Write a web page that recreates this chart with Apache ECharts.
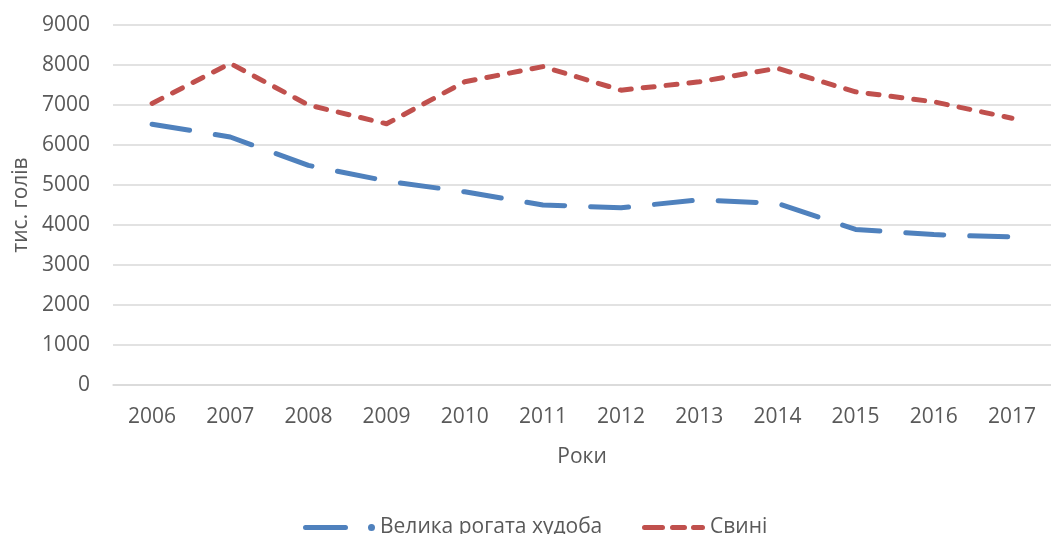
<!DOCTYPE html>
<html>
<head>
<meta charset="utf-8">
<script src="https://cdn.jsdelivr.net/npm/echarts@6/dist/echarts.min.js"></script>
<style>
  html, body { margin: 0; padding: 0; background: #fff; }
  #chart { width: 1051px; height: 534px; }
</style>
</head>
<body>
<div id="chart"></div>
<script>
// роки
const years = ['2006', '2007', '2008', '2009', '2010', '2011', '2012', '2013', '2014', '2015', '2016', '2017']
// велика рогата худоба, тис. голів
const cattle = [6520, 6200, 5490, 5100, 4830, 4500, 4430, 4630, 4540, 3890, 3760, 3700]
// свині, тис. голів
const pigs = [7040, 8040, 7000, 6530, 7580, 7960, 7370, 7580, 7920, 7330, 7080, 6670]

const textColor = '#595959'
const font = 'Open Sans'
const blue = '#4f81bd'
const red = '#c0504d'

// значки легенди як в Excel: довга лінія з крапкою та три штрихи
const blueIcon = 'path://M2.5 1 L42.5 1 A2.5 2.5 0 0 1 42.5 6 L2.5 6 A2.5 2.5 0 0 1 2.5 1 Z ' +
  'M65 3.5 A3.5 3.5 0 1 1 72 3.5 A3.5 3.5 0 1 1 65 3.5 Z'
const redIcon = 'path://M2.5 0 L20.5 0 A2.5 2.5 0 0 1 20.5 5 L2.5 5 A2.5 2.5 0 0 1 2.5 0 Z ' +
  'M30.5 0 L42.5 0 A2.5 2.5 0 0 1 42.5 5 L30.5 5 A2.5 2.5 0 0 1 30.5 0 Z ' +
  'M51.5 0 L60.5 0 A2.5 2.5 0 0 1 60.5 5 L51.5 5 A2.5 2.5 0 0 1 51.5 0 Z'

const legendText = { color: textColor, fontSize: 21, fontFamily: font }

const myChart = echarts.init(document.getElementById('chart'))
const option = {
  animation: false,
  grid: {
    left: 113,
    right: -11,
    top: 25,
    bottom: 149,
  },
  legend: [
    {
      left: 298,
      top: 512,
      itemWidth: 72,
      itemHeight: 7,
      textStyle: legendText,
      data: [{ name: 'Велика рогата худоба', icon: blueIcon }],
    },
    {
      left: 637,
      top: 512,
      itemWidth: 63,
      itemHeight: 5,
      textStyle: legendText,
      data: [{ name: 'Свині', icon: redIcon }],
    },
  ],
  xAxis: {
    type: 'category',
    data: years,
    boundaryGap: true,
    name: 'Роки',
    nameLocation: 'middle',
    nameGap: 62,
    nameTextStyle: { color: textColor, fontSize: 21, fontFamily: font },
    axisLine: { lineStyle: { color: '#d9d9d9', width: 1.5 } },
    axisTick: { show: false },
    axisLabel: { color: textColor, fontSize: 21, fontFamily: font, margin: 22 },
  },
  yAxis: {
    type: 'value',
    min: 0,
    max: 9000,
    interval: 1000,
    name: 'тис. голів',
    nameLocation: 'middle',
    nameGap: 78,
    nameTextStyle: { color: textColor, fontSize: 21, fontFamily: font },
    axisLine: { show: false },
    axisTick: { show: false },
    axisLabel: {
      color: textColor,
      fontSize: 21,
      fontFamily: font,
      margin: 23,
      formatter: (v) => String(v),
    },
    splitLine: { lineStyle: { color: '#d9d9d9', width: 1.5 } },
  },
  series: [
    {
      name: 'Велика рогата худоба',
      type: 'line',
      data: cattle,
      symbol: 'none',
      color: blue,
      lineStyle: { width: 5, type: [38, 26], cap: 'round', join: 'round' },
    },
    {
      name: 'Свині',
      type: 'line',
      data: pigs,
      symbol: 'none',
      color: red,
      lineStyle: { width: 5, type: [11, 12], cap: 'round', join: 'round' },
    },
  ],
}
myChart.setOption(option)
</script>
</body>
</html>
